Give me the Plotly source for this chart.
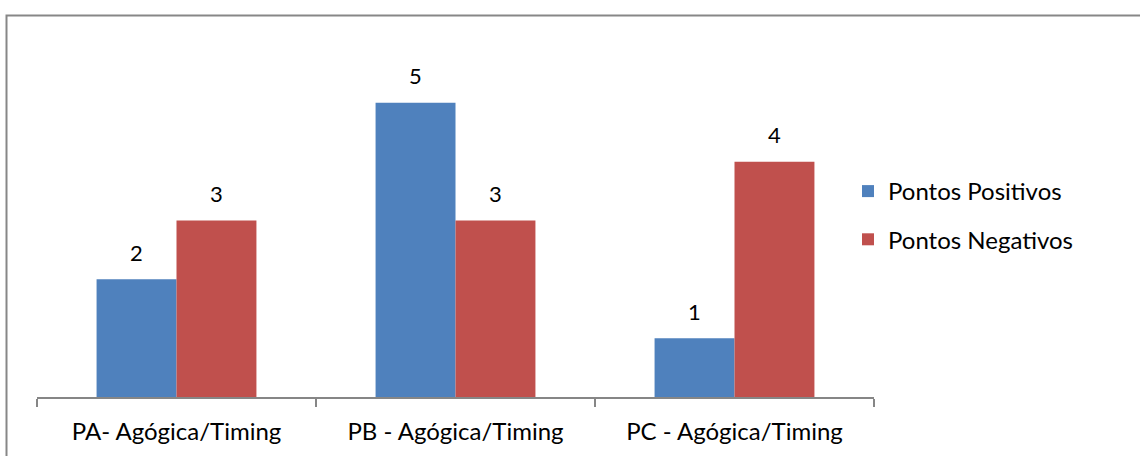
import plotly.graph_objects as go

categories = ["PA- Agógica/Timing", "PB - Agógica/Timing", "PC - Agógica/Timing"]
positivos = [2, 5, 1]
negativos = [3, 3, 4]
series_names = ["Pontos Positivos", "Pontos Negativos"]
colors = ["#4F81BD", "#C0504D"]

FONT = "Lato"
fig = go.Figure()
for name, vals, col, grp in zip(series_names, [positivos, negativos], colors, ["a", "b"]):
    fig.add_trace(go.Bar(x=categories, y=vals, name=name, marker=dict(color=col, line=dict(width=0)),
                         legendgroup=grp))

annotations = []
for vals, shift in zip([positivos, negativos], [-40, 40]):
    for c, v in zip(categories, vals):
        annotations.append(dict(x=c, y=v, text=str(v), showarrow=False, xshift=shift, yshift=27,
                                font=dict(size=22, color="#000000", family=FONT)))

W, H = 1140, 456
l, r, t, b = 37, W - 874, 44, H - 397
pw, ph = W - l - r, H - t - b

fig.update_layout(
    width=W, height=H,
    margin=dict(l=l, r=r, t=t, b=b, pad=0),
    plot_bgcolor="white", paper_bgcolor="white",
    barmode="group", bargap=0.427, bargroupgap=0,
    font=dict(family=FONT, size=24, color="#000000"),
    showlegend=True,
    legend=dict(x=(848 - l) / pw, y=(397 - 169) / ph, xanchor="left", yanchor="top",
                font=dict(size=24, family=FONT), tracegroupgap=14, bgcolor="rgba(0,0,0,0)",
                itemwidth=30),
    annotations=annotations,
    shapes=[dict(type="rect", xref="paper", yref="paper",
                 x0=(6.5 - l) / pw, x1=(1160 - l) / pw,
                 y0=(397 - 470) / ph, y1=(397 - 15.5) / ph,
                 line=dict(color="#878787", width=2), fillcolor="rgba(0,0,0,0)", layer="below")],
)
fig.update_xaxes(showline=True, linecolor="#868686", linewidth=1.5, ticks="outside", ticklen=8,
                 tickcolor="#868686", tickwidth=1.5, tickson="boundaries", showgrid=False,
                 tickfont=dict(size=24, family=FONT), range=[-0.5, 2.5], ticklabelstandoff=12)
fig.update_yaxes(range=[0, 6], showgrid=False, showticklabels=False, zeroline=False, showline=False)

fig.write_html("out.html")
